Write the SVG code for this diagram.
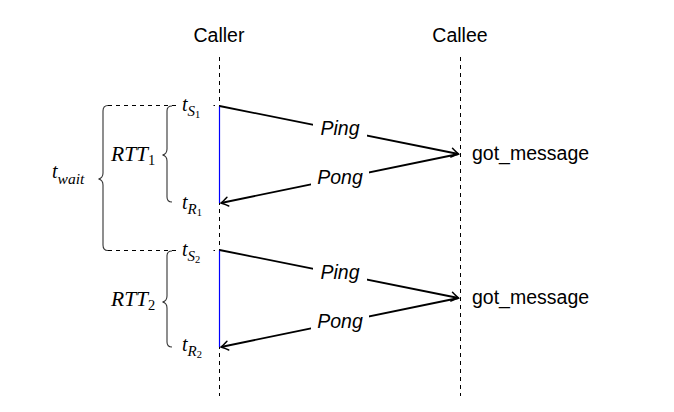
<svg xmlns="http://www.w3.org/2000/svg" width="674" height="412" viewBox="0 0 674 412">
<style>
.sans{font-family:"Liberation Sans",Arial,sans-serif;fill:#000}
.lbl{font-size:19.5px}
.it{font-style:italic}
.math{font-family:"Liberation Serif","Times New Roman",serif;font-style:italic;fill:#000}
.life{stroke:#000;stroke-width:1;stroke-dasharray:4 4;fill:none}
.act{stroke:#0000ff;stroke-width:1.2;fill:none}
.msg{stroke:#000;stroke-width:1.8;fill:none;marker-end:url(#arr)}
.brace{stroke:#333;stroke-width:1.1;fill:none}
.hd{stroke:#000;stroke-width:1;stroke-dasharray:4 4;fill:none}
</style>
<defs>
<marker id="arr" viewBox="-8 -6 10 12" markerWidth="10" markerHeight="12" refX="0" refY="0" orient="auto" markerUnits="userSpaceOnUse">
<path d="M-7,-4.5 Q-2,-1 0,0 Q-2,1 -7,4.5" stroke="#000" stroke-width="1.5" fill="none" stroke-linecap="round"/>
</marker>
</defs>
<rect width="674" height="412" fill="#fff"/>
<g id="caller">
<text class="sans lbl" x="219" y="42" text-anchor="middle">Caller</text>
<line class="life" x1="219.5" y1="57" x2="219.5" y2="396"/>
<line class="act" x1="219.5" y1="106" x2="219.5" y2="203"/>
<line class="act" x1="219.5" y1="250" x2="219.5" y2="347"/>
</g>
<g id="callee">
<text class="sans lbl" x="460" y="42" text-anchor="middle">Callee</text>
<line class="life" x1="460.5" y1="57" x2="460.5" y2="396"/>
</g>
<g id="got1"><text class="sans lbl" x="472" y="160">got_message</text></g>
<g id="got2"><text class="sans lbl" x="472" y="304">got_message</text></g>
<g id="connectors">
<line class="msg" x1="219.5" y1="106" x2="458.5" y2="154"/>
<line class="msg" x1="458.5" y1="154" x2="221" y2="203"/>
<line class="msg" x1="219.5" y1="250" x2="458.5" y2="298"/>
<line class="msg" x1="458.5" y1="298" x2="221" y2="347"/>
<line class="hd" x1="108" y1="105.5" x2="180" y2="105.5"/>
<line class="hd" x1="108" y1="250.5" x2="180" y2="250.5"/>
<line x1="213.5" y1="105.5" x2="215" y2="105.5" stroke="#000" stroke-width="1"/>
<line x1="213.5" y1="250.5" x2="215" y2="250.5" stroke="#000" stroke-width="1"/>
</g>
<g id="ping1">
<rect x="313" y="117" width="54" height="24" fill="#fff"/>
<text class="sans lbl it" x="340" y="135" text-anchor="middle">Ping</text>
</g>
<g id="pong1">
<rect x="311" y="165" width="58" height="24" fill="#fff"/>
<text class="sans lbl it" x="340" y="184" text-anchor="middle">Pong</text>
</g>
<g id="ping2">
<rect x="313" y="261" width="54" height="24" fill="#fff"/>
<text class="sans lbl it" x="340" y="279" text-anchor="middle">Ping</text>
</g>
<g id="pong2">
<rect x="311" y="309" width="58" height="24" fill="#fff"/>
<text class="sans lbl it" x="340" y="328" text-anchor="middle">Pong</text>
</g>
<g id="tS1"><text class="math" x="182" y="111" font-size="20">t<tspan font-size="15" dy="5">S</tspan><tspan font-size="10.5" dy="2" font-style="normal">1</tspan></text></g>
<g id="tR1"><text class="math" x="182" y="209" font-size="20">t<tspan font-size="15" dy="5">R</tspan><tspan font-size="10.5" dy="2" font-style="normal">1</tspan></text></g>
<g id="tS2"><text class="math" x="182" y="256" font-size="20">t<tspan font-size="15" dy="5">S</tspan><tspan font-size="10.5" dy="2" font-style="normal">2</tspan></text></g>
<g id="tR2"><text class="math" x="182" y="351" font-size="20">t<tspan font-size="15" dy="5">R</tspan><tspan font-size="10.5" dy="2" font-style="normal">2</tspan></text></g>
<g id="rtt1">
<path class="brace" d="M172,106 Q167,106 167,111 L167,149 Q167,154 162.5,155 Q167,156 167,161 L167,197 Q167,202 172,202"/>
<text class="math" x="111" y="161" font-size="21.5">RTT<tspan font-size="14.5" dy="4" font-style="normal">1</tspan></text>
</g>
<g id="rtt2">
<path class="brace" d="M172,251 Q167,251 167,256 L167,296 Q167,301 162.5,302 Q167,303 167,308 L167,342 Q167,347 172,347"/>
<text class="math" x="111" y="306" font-size="21.5">RTT<tspan font-size="14.5" dy="4" font-style="normal">2</tspan></text>
</g>
<g id="twait">
<path class="brace" d="M108,105.5 Q103,105.5 103,111 L103,173 Q103,178 98.5,179 Q103,180 103,185 L103,245 Q103,250.5 108,250.5"/>
<text class="math" x="52" y="178" font-size="20">t<tspan font-size="15.5" dy="6">wait</tspan></text>
</g>
</svg>
